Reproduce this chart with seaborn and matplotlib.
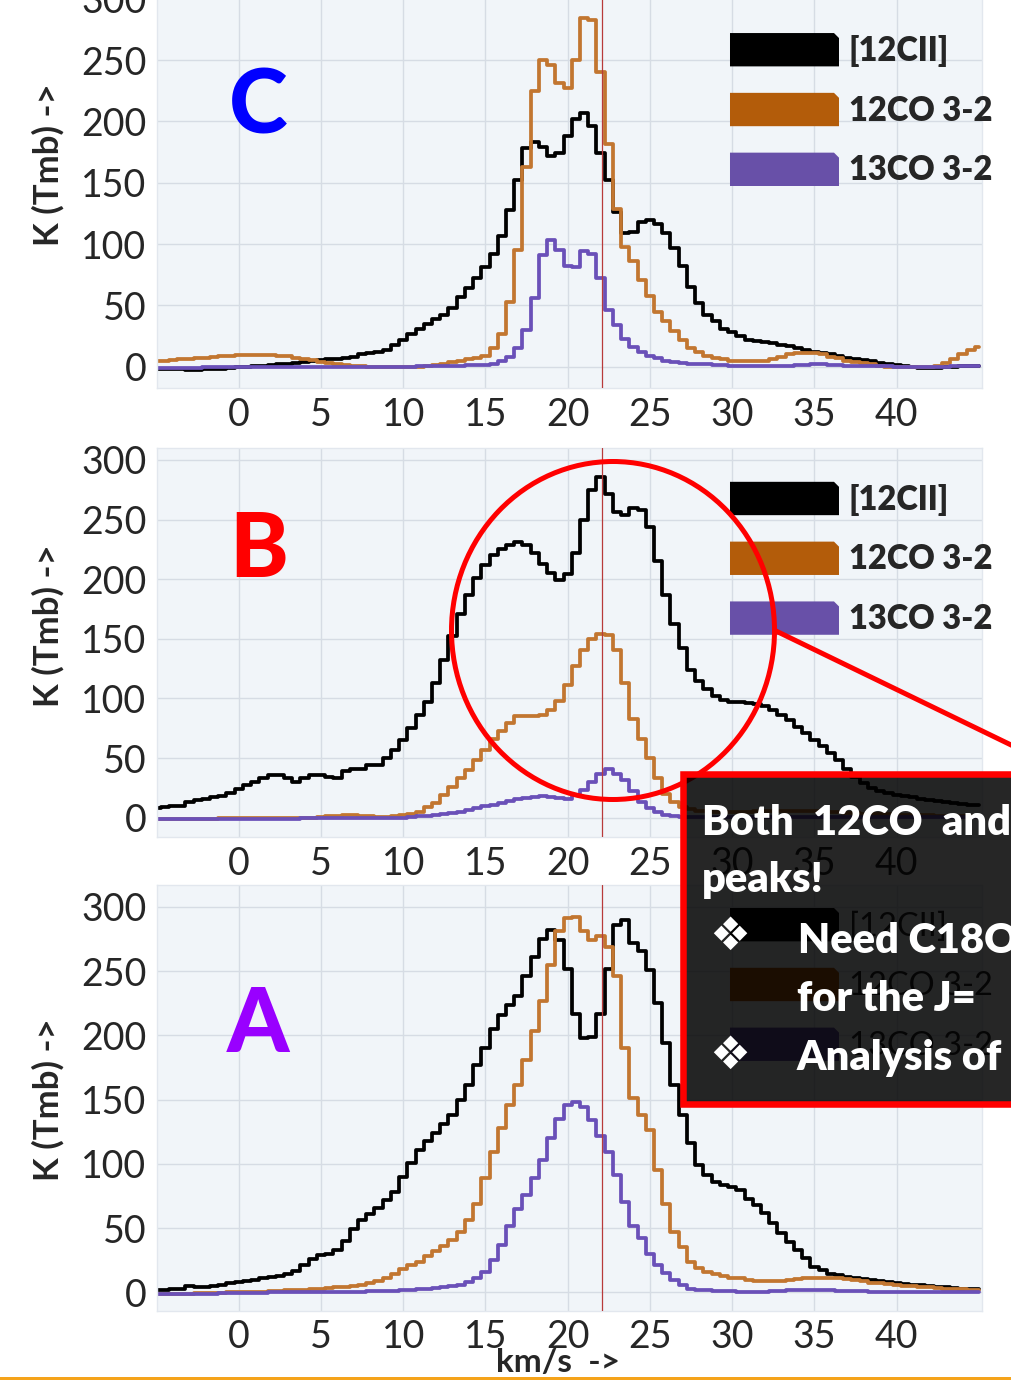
import numpy as np
import pandas as pd
import matplotlib
matplotlib.use("Agg")
import matplotlib.pyplot as plt
import seaborn as sns
from matplotlib.patches import Polygon, Ellipse, Rectangle, Patch
from matplotlib.legend_handler import HandlerPatch
from matplotlib.lines import Line2D

sns.set_style("white")
plt.rcParams["font.family"] = ["Lato", "DejaVu Sans"]

# ---------------- data ----------------
velocity = np.arange(-5.0, 45.01, 0.5)          # channel centres (km/s)
species = ["[12CII]", "12CO 3-2", "13CO 3-2"]
line_colors = {"[12CII]": "#000000", "12CO 3-2": "#c27630", "13CO 3-2": "#6a50b8"}
patch_colors = {"[12CII]": "#000000", "12CO 3-2": "#b35c0a", "13CO 3-2": "#6850a8"}
vline_velocity = 22.07
xtick_values = [0, 5, 10, 15, 20, 25, 30, 35, 40]
ytick_values = [0, 50, 100, 150, 200, 250, 300]

# Panel C
cii_C = [-1.5, -1.5, -2, -2, -2.5, -2.5, -2, -2, -1.5, -1,
         -0.5, 0, 0.5, 1, 1.5, 2, 2.5, 3, 4, 5,
         5.5, 6, 6.5, 7, 8, 10, 11, 12, 14, 18,
         22, 27, 31, 35, 39, 42, 48, 57, 64, 72,
         81, 92, 107, 128, 152, 178, 183, 179, 172, 174,
         188, 202, 207, 196, 174, 152, 126, 109, 110, 118,
         120, 116, 109, 97, 82, 65, 52, 42, 37, 31,
         28, 25, 22, 21, 20, 19, 18, 17, 15.5, 14,
         12, 11, 10, 9, 7.5, 6.5, 5.5, 4.5, 3, 2.5,
         1.5, 1, 0, -1, -1, -1, 0, 0, 1, 1,
         0.5]
co12_C = [4.5, 5, 5.5, 6, 6.5, 7, 7.5, 8, 8.5, 9,
          9.5, 9.5, 9.5, 9.5, 9.5, 9, 8.5, 7.5, 6.5, 5.5,
          4, 3, 2, 1.5, 1, 0.5, 0, 0, 0, 0,
          0, 0, 0, 0.5, 1.5, 2.5, 3.5, 4.5, 6, 7.5,
          9, 15, 27, 53, 95, 163, 225, 250, 246, 231,
          227, 250, 284, 283, 240, 182, 129, 98, 86, 71,
          58, 45, 37, 29, 22, 15, 12, 9, 7, 6,
          5, 5, 5, 5, 5, 6, 8, 10, 11, 11,
          11, 10, 8, 7, 5, 4, 3, 2, 1, 0,
          0, 0, 0, 0, 0, 1, 3, 6, 10, 14,
          16]
co13_C = [-1, -1, -1, -1, -1, -1, -0.5, -0.5, -0.5, -0.5,
          0, 0, 0, 0, 0, 0, 0, 0, 0, 0,
          0, -0.5, -0.5, -0.5, -0.5, -0.5, -0.5, -0.5, 0, 0,
          0, 0, 0.5, 0.5, 0.5, 1, 1, 1, 1.5, 1.5,
          1.5, 2, 5, 8, 15, 30, 56, 91, 103, 95,
          82, 81, 94, 92, 72, 46, 34, 23, 16, 12,
          8.7, 6.8, 5, 3.8, 3, 2.5, 2, 2, 1.5, 1.5,
          1, 1, 0.5, 0.5, 0.5, 0.5, 1, 1, 1.5, 1.5,
          2, 2, 1.5, 1.5, 1, 1, 0.5, 0.5, 0.5, 0.5,
          0, 0, 0, 0, 0, 0, 0, 0.5, 0.5, 0.5,
          0.5]

# Panel B
cii_B = [8, 9, 10, 10, 13, 15, 16, 17, 18, 21,
         24, 27, 30, 33, 36, 36, 33, 30, 33, 36,
         36, 34, 33, 39, 41, 41, 44, 44, 50, 57,
         65, 75, 86, 97, 113, 132, 152, 171, 187, 201,
         212, 220, 225, 229, 231, 229, 222, 213, 205, 199,
         204, 222, 250, 275, 286, 271, 256, 254, 260, 258,
         244, 215, 187, 162, 142, 124, 115, 108, 102, 99,
         97, 97, 96, 95, 94, 90, 86, 82, 76, 71,
         65, 60, 54, 48, 41, 34, 29, 25, 22, 20.5,
         19, 18, 17, 16, 15, 14, 13, 12, 11.5, 11,
         10.5]
co12_B = [-1, -1, -1, -1, -1, -1, -1, -1, -0.5, -0.5,
          -0.5, -0.5, -0.5, -0.5, -0.5, 0, 0, 0, 0, 0,
          0.5, 1, 1.5, 2, 2, 1.5, 1, 0.5, 0.5, 1,
          2, 3.5, 5, 9, 12, 19, 26, 33, 40, 48,
          57, 66, 73, 79, 85, 85.5, 85, 86, 90, 98,
          111, 127, 141, 150, 154, 153, 141, 113, 83, 66,
          50, 33, 20, 13, 9, 7, 6, 5.5, 5, 5,
          5, 5, 5, 5.5, 6, 6, 6, 6, 6, 6,
          5.5, 5, 5, 4.5, 4, 4, 3.5, 3, 3, 3,
          2.5, 2.5, 2, 2, 2, 1.5, 1.5, 1, 1, 1,
          1]
co13_B = [-1, -1, -1, -1, -1, -1, -1, -1, -1, -1,
          -1, -1, -1, -1, -1, -1, -1, -1, -0.5, -0.5,
          -0.5, -0.5, -0.5, -0.5, -0.5, -0.5, -0.5, 0, 0, 0,
          0, 0.5, 1, 1.5, 2, 3, 4, 5, 6.5, 8,
          9.5, 11, 12.5, 14, 15.5, 16.5, 17.5, 18, 17.5, 16.5,
          16, 19, 23, 30, 37, 41, 37, 31.5, 22, 13,
          8, 5, 2.5, 1, 0.5, 0.5, 0.5, 0.5, 0.5, 0.5,
          0.5, 0.5, 0.5, 0.5, 0.5, 0.5, 0.5, 0.5, 0.5, 0.5,
          0.5, 0.5, 0.5, 0.5, 0.5, 0.5, 0.5, 0.5, 0.5, 0.5,
          0.5, 0.5, 0.5, 0.5, 0.5, 0.5, 0.5, 0.5, 0.5, 0.5,
          0.5]

# Panel A
cii_A = [2, 2, 2.5, 3, 5, 4, 4, 5, 6, 7,
         8, 9, 10, 11, 12, 13, 14, 17, 21, 26,
         29, 30, 33, 40, 49, 56, 61, 66, 72, 78,
         90, 101, 111, 118, 124, 131, 138, 150, 161, 177,
         190, 205, 216, 224, 231, 246, 261, 275, 282, 274,
         252, 217, 198, 199, 217, 252, 286, 290, 272, 266,
         251, 225, 194, 161, 138, 116, 99, 91, 86, 83.5,
         82, 79.5, 73, 68, 61.5, 54, 46, 39.5, 33, 26.5,
         20, 17.5, 14, 13.5, 12, 11, 10.5, 9.5, 8.5, 8,
         7, 6.5, 6, 5.5, 5, 4.5, 4, 3.5, 3, 3,
         2.5]
co12_A = [-1, -1, -1, -1, -1, -0.5, -0.5, -0.5, -0.5, 0,
          0, 0, 0.5, 0.5, 1, 1, 1.5, 1.5, 2, 2.5,
          3, 3.5, 4, 4.5, 5, 6, 7, 9, 11, 14,
          18, 21, 24, 28, 32, 36, 41, 47, 56, 69,
          89, 109, 128, 146, 161, 181, 203, 227, 255, 281,
          291, 292, 281, 274, 277, 269, 246, 190, 151, 138,
          126, 95, 69, 47, 35.5, 24, 19, 16, 14, 13,
          11.5, 11, 10, 9, 8.5, 8.5, 9, 9.5, 10.5, 11,
          11, 11, 11, 11, 10.5, 9.5, 8.5, 7.5, 7, 6.5,
          6, 5, 5, 4.5, 4, 3.5, 3, 3, 2.5, 2,
          2]
co13_A = [-1, -1, -1, -1, -1, -1, -1, -1, -0.5, -0.5,
          -0.5, -0.5, -0.5, -0.5, 0, 0, 0, 0, 0, 0,
          0, 0.5, 0.5, 0.5, 0.5, 0.5, 1, 1, 1, 1,
          1.5, 2, 2.5, 3, 3.5, 4, 5, 6, 8, 11,
          16, 25, 37, 52, 65, 76, 89, 103, 120, 135,
          146, 148, 144, 134, 122, 109, 91, 70, 52, 42,
          30, 21, 15, 10, 6, 3, 2, 1.5, 1, 1,
          1, 0.5, 0.5, 0.5, 0.5, 1, 1, 1.5, 1.5, 2,
          2, 1.5, 1.5, 1, 1, 1, 1, 0.5, 0.5, 0.5,
          0.5, 0.5, 0.5, 0.5, 0.5, 0.5, 0.5, 0.5, 0, 0,
          0]


def make_frame(cii, co12, co13):
    return pd.DataFrame({
        "velocity": np.concatenate([velocity] * 3),
        "Tmb": np.concatenate([cii, co12, co13]),
        "line": np.repeat(species, len(velocity)),
    })


class ChamferHandler(HandlerPatch):
    def create_artists(self, legend, orig_handle, xdescent, ydescent,
                       width, height, fontsize, trans):
        x0, y0 = -xdescent, -ydescent
        c = 0.15 * height
        pts = [(x0, y0), (x0 + width, y0), (x0 + width, y0 + height - c),
               (x0 + width - c, y0 + height), (x0, y0 + height)]
        p = Polygon(pts, closed=True, facecolor=orig_handle.get_facecolor(),
                    edgecolor="none", transform=trans)
        return [p]


# ---------------- figure ----------------
W, H = 1011, 1380
fig = plt.figure(figsize=(W / 100, H / 100), dpi=100)
fig.patch.set_facecolor("white")

panels = [
    # name, rect, ylim, data, legend y anchor, ylabel y, legend weight
    ("C", [0.1553, 0.7186, 0.8157, 0.2867], (-17.6, 305), (cii_C, co12_C, co13_C), 0.898, 0.565, "heavy"),
    ("B", [0.1553, 0.3933, 0.8157, 0.2821], (-16.4, 310), (cii_B, co12_B, co13_B), 0.913, 0.543, "heavy"),
    ("A", [0.1553, 0.0500, 0.8157, 0.3087], (-14.5, 317), (cii_A, co12_A, co13_A), 0.946, 0.495, "normal"),
]

LEG_FS = 23.5
fs_px = LEG_FS * 100 / 72

axes = {}
for name, rect, ylim, data, leg_y, lab_y, leg_w in panels:
    ax = fig.add_axes(rect)
    axes[name] = ax
    ax.set_facecolor("#f1f5f9")
    df = make_frame(*data)
    sns.lineplot(data=df, x="velocity", y="Tmb", hue="line", hue_order=species,
                 palette=line_colors, drawstyle="steps-mid", linewidth=2.7,
                 estimator=None, sort=False, legend=False, ax=ax)
    ax.axvline(vline_velocity, color="#b83a3a", lw=0.9, zorder=3)
    ax.set_xlim(-4.97, 45.17)
    ax.set_ylim(*ylim)
    ax.set_xticks(xtick_values)
    ax.set_yticks(ytick_values)
    ax.grid(True, color="#d6dce4", lw=1.0)
    ax.set_axisbelow(True)
    for s in ax.spines.values():
        s.set_color("#e2e7ee")
        s.set_linewidth(1.0)
    ax.tick_params(axis="y", length=7, width=2.2, pad=0.5, labelsize=27, color="black")
    ax.tick_params(axis="x", length=0, pad=6, labelsize=27)
    ax.set_xlabel("")
    ax.set_ylabel("K (Tmb) ->", fontsize=25, fontweight="bold")
    ax.yaxis.set_label_coords(-0.112, lab_y)

    handles = [Patch(facecolor=patch_colors[s], label=s) for s in species]
    ax.legend(handles=handles, loc="upper left", bbox_to_anchor=(0.6948, leg_y),
              frameon=False, borderpad=0, borderaxespad=0,
              handlelength=109 / fs_px, handleheight=39 / fs_px,
              handletextpad=10 / fs_px,
              labelspacing=0.8, prop={"size": LEG_FS, "weight": leg_w},
              handler_map={Patch: ChamferHandler()})

axes["A"].set_xlabel("km/s  ->", fontsize=24, fontweight="bold")
axes["A"].xaxis.set_label_coords(0.486, -0.088)

# ---------------- overlay annotations (pixel coordinates) ----------------
ov = fig.add_axes([0, 0, 1, 1], zorder=20)
ov.set_xlim(0, W)
ov.set_ylim(H, 0)
ov.axis("off")
ov.patch.set_alpha(0)

ov.text(258, 133, "C", color="#0000ff", fontsize=64, fontweight="black", ha="center", va="baseline")
ov.text(259, 577, "B", color="#ff0000", fontsize=64, fontweight="black", ha="center", va="baseline")
ov.text(258, 1052, "A", color="#9900ff", fontsize=64, fontweight="black", ha="center", va="baseline")

ov.add_patch(Ellipse((613, 630.5), 323, 338, fill=False, ec="#ff0000", lw=3.6, zorder=2))
ov.add_line(Line2D([776, 1060], [631, 768.7], color="#ff0000", lw=3.6, zorder=2))
ov.add_patch(Rectangle((683.3, 774.3), 400, 329.4, facecolor=(0, 0, 0, 0.85),
                       edgecolor="#ff0000", lw=4.7, zorder=3))

tk = dict(color="white", fontsize=30, fontweight="heavy", va="baseline", ha="left", zorder=4)
ov.text(702, 835, "Both  12CO  and", **tk)
ov.text(702, 892, "peaks!", **tk)
ov.text(798, 953, "Need C18O", **tk)
ov.text(797, 1011, "for the J=", **tk)
ov.text(797, 1070, "Analysis of", **tk)
bk = dict(color="white", fontsize=33, ha="center", va="center", zorder=4,
          family=["DejaVu Sans"])
ov.text(730, 937, "\u2756", **bk)
ov.text(730, 1056, "\u2756", **bk)

ov.add_patch(Rectangle((0, 1376.5), W, 4, facecolor="#f5a31a", edgecolor="none", zorder=5))

fig.savefig("out.png", dpi=100, facecolor="white")
